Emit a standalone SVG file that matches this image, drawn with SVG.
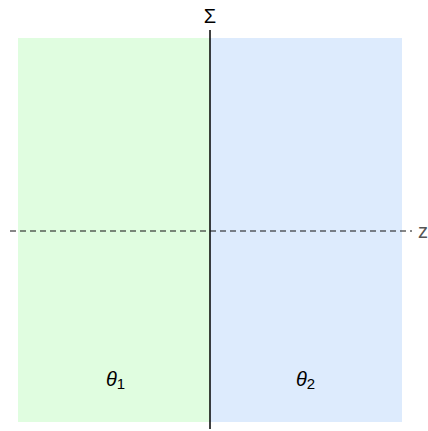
<svg xmlns="http://www.w3.org/2000/svg" width="428" height="431" viewBox="0 0 428 431">
<style>
.lbl{font-family:"Liberation Sans",Arial,sans-serif;font-size:20px;fill:#000}
.it{font-style:italic}
</style>
<rect width="428" height="431" fill="#fff"/>
<g id="region1"><rect x="18" y="38" width="192" height="384" fill="#e0fde0"/><text class="lbl" x="106" y="386"><tspan class="it">θ</tspan><tspan font-size="15" dy="3">1</tspan></text></g>
<g id="region2"><rect x="210" y="38" width="192" height="384" fill="#ddebfd"/><text class="lbl" x="296" y="386"><tspan class="it">θ</tspan><tspan font-size="15" dy="3">2</tspan></text></g>
<g id="connectors">
<line x1="210" y1="30" x2="210" y2="429" stroke="#000" stroke-width="1.5"/>
<line x1="10" y1="231" x2="412" y2="231" stroke="#111" stroke-width="1.2" stroke-dasharray="6,4"/>
</g>
<g id="sigma"><text class="lbl" x="210" y="23" text-anchor="middle">Σ</text></g>
<g id="zaxis"><text class="lbl" x="418" y="238" style="fill:#555">z</text></g>
</svg>
